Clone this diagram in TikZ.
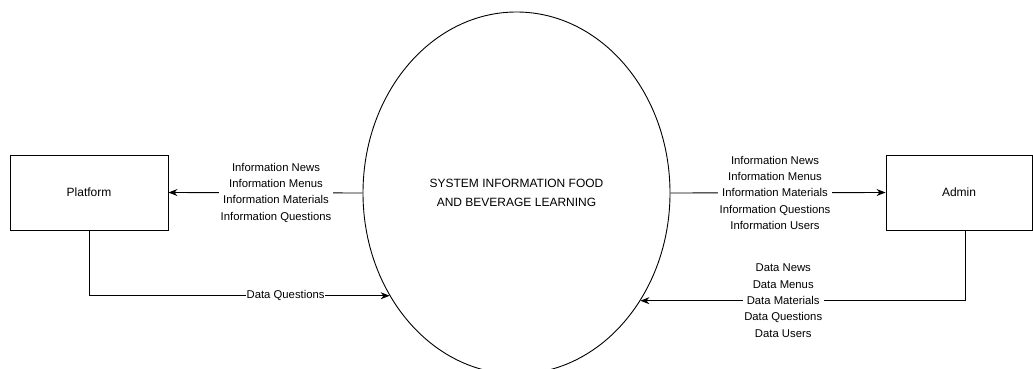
\documentclass[tikz,border=0pt]{standalone}
\usepackage{fontspec}
\setmainfont{Liberation Sans}
\usetikzlibrary{arrows.meta, positioning, shapes.geometric}

\begin{document}
\begin{tikzpicture}[x=1pt, y=-1pt,
  entity/.style={rectangle, draw=black, fill=white, line width=0.9pt,
                 minimum width=158pt, minimum height=75pt, inner sep=0pt,
                 font=\fontsize{12}{14}\selectfont},
  process/.style={ellipse, draw=black, line width=0.9pt, inner sep=0pt,
                  minimum width=307pt, minimum height=362pt, align=center,
                  font=\fontsize{12}{19}\selectfont},
  flow/.style={-{Stealth[length=9pt, width=7pt]}, line width=0.9pt, draw=black},
  line/.style={line width=0.9pt, draw=black},
  flowlabel/.style={fill=white, align=center, inner sep=1.5pt,
                    font=\fontsize{11.3}{16.3}\selectfont}
]
  \clip (0,0) rectangle (1033,369);

  \node[process] (sys) at (516.5,193) {SYSTEM INFORMATION FOOD\\AND BEVERAGE LEARNING};
  \node[entity] (platform) at (89,192.5) {Platform};
  \node[entity, minimum width=146pt] (admin) at (959,192.5) {Admin};
  \coordinate (adminout) at ([xshift=6pt]admin.south);

  % outgoing information
  \draw[flow] (sys.west) -- (platform.east)
        node[flowlabel, pos=0.446] {Information News\\Information Menus\\Information Materials\\Information Questions};
  \draw[flow] (sys.east) -- (admin.west)
        node[flowlabel, pos=0.486] {Information News\\Information Menus\\Information Materials\\Information Questions\\Information Users};

  % incoming data
  \draw[flow] (platform.south) |- (sys.219)
        node[flowlabel, pos=0.827, inner sep=0.5pt] {Data Questions};
  \draw[flow] (adminout) |- (sys.319)
        node[flowlabel, pos=0.78] {Data News\\Data Menus\\Data Materials\\Data Questions\\Data Users};
\end{tikzpicture}
\end{document}
